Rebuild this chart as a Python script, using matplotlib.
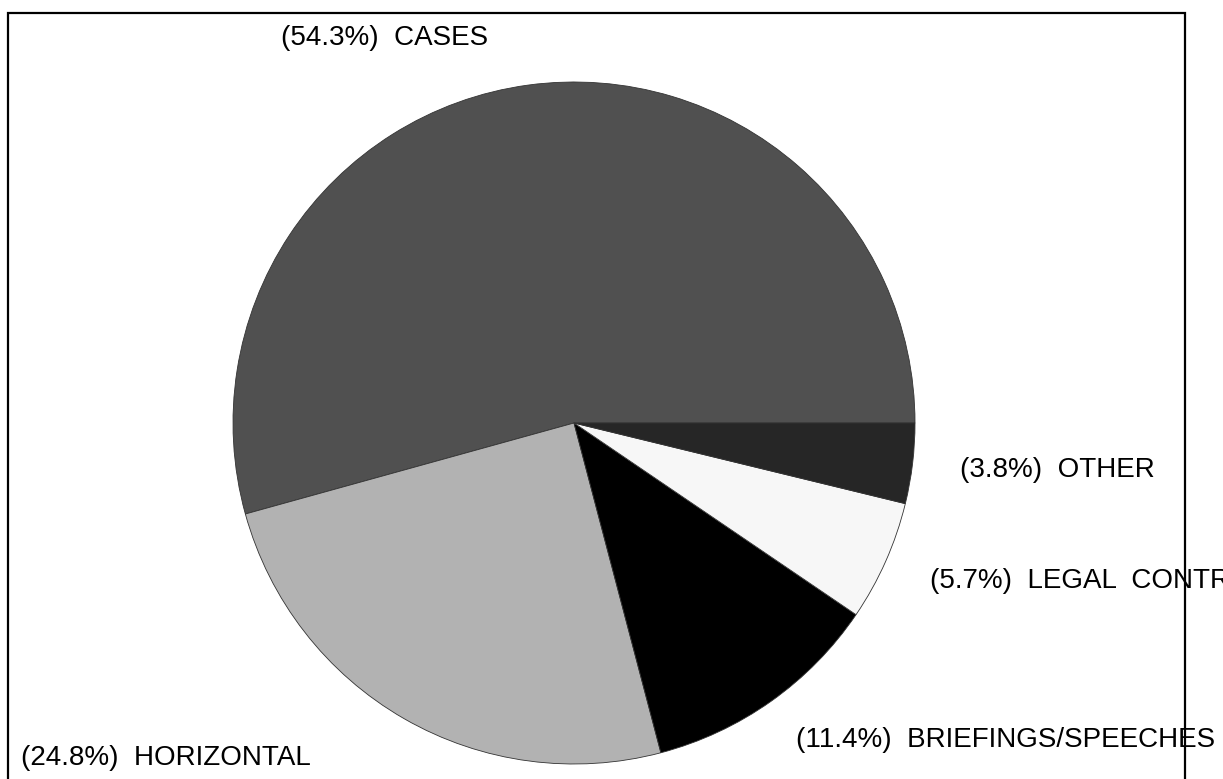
import matplotlib
matplotlib.use("Agg")
import matplotlib.pyplot as plt
from matplotlib.patches import Rectangle

categories = ["CASES", "HORIZONTAL", "BRIEFINGS/SPEECHES", "LEGAL CONTRACTS", "OTHER"]
values = [54.3, 24.8, 11.4, 5.7, 3.8]
label_texts = ["(54.3%)  CASES", "(24.8%)  HORIZONTAL", "(11.4%)  BRIEFINGS/SPEECHES",
               "(5.7%)  LEGAL  CONTRACTS", "(3.8%)  OTHER"]
colors = ["#505050", "#b2b2b2", "#000000", "#f7f7f7", "#262626"]

W, H = 1223, 779
fig = plt.figure(figsize=(W / 100, H / 100), dpi=100)
plt.rcParams['font.family'] = ['Liberation Sans', 'DejaVu Sans']

cx, cy, r = 574, 423, 341
ax = fig.add_axes([(cx - r) / W, (H - cy - r) / H, 2 * r / W, 2 * r / H])
ax.pie(values, colors=colors, startangle=0, counterclock=True, radius=1,
       wedgeprops=dict(linewidth=0.6, edgecolor="#333333"))
ax.set_xlim(-1, 1)
ax.set_ylim(-1, 1)
ax.set_aspect("equal")
ax.axis("off")

# label positions (pixel coords: left edge, baseline)
label_pos = {
    "CASES": (281, 45),
    "HORIZONTAL": (21, 765),
    "BRIEFINGS/SPEECHES": (796, 747),
    "LEGAL CONTRACTS": (930, 588),
    "OTHER": (960, 477),
}
for cat, txt in zip(categories, label_texts):
    x, y = label_pos[cat]
    fig.text(x / W, 1 - y / H, txt, ha="left", va="baseline", fontsize=20, color="black")

# frame
fig.add_artist(Rectangle((8 / W, -0.1), (1185 - 8) / W, 1 - 13 / H + 0.1,
                         transform=fig.transFigure, fill=False, edgecolor="black",
                         linewidth=1.6, clip_on=False))

fig.savefig("out.png", dpi=100)
